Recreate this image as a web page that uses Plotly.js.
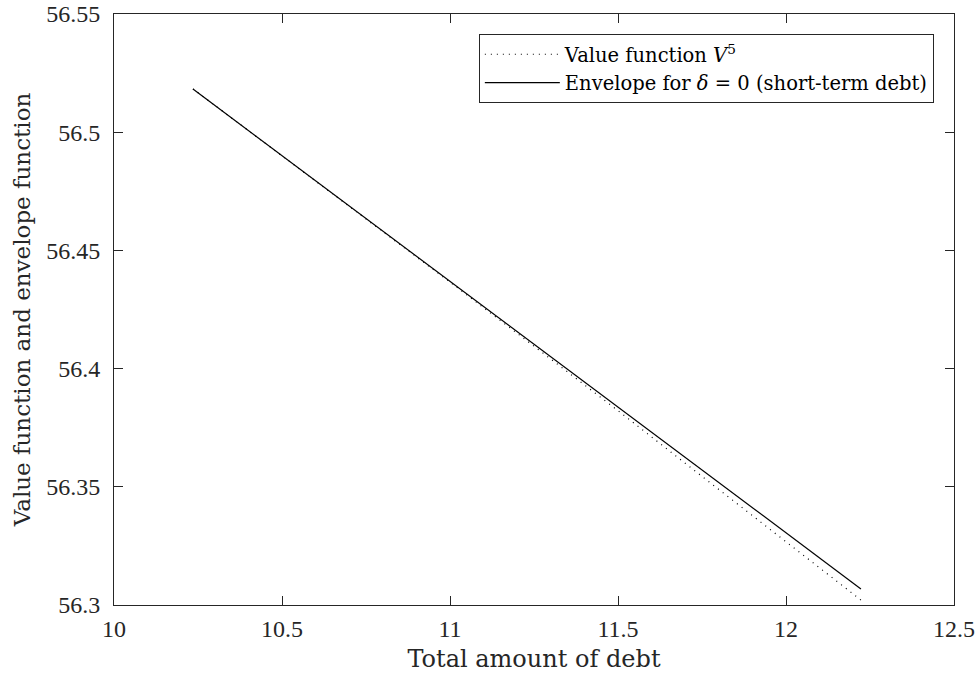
<!DOCTYPE html>
<html>
<head>
<meta charset="utf-8">
<script src="https://cdn.plot.ly/plotly-3.0.1.min.js"></script>
<style>html,body{margin:0;padding:0;background:#fff;}#chart{width:979px;height:677px;}</style>
</head>
<body>
<div id="chart"></div>
<script>
// Data
const debt = [10.235, 10.5, 10.75, 11.0, 11.25, 11.5, 11.75, 12.0, 12.223];
const valueFunction = [56.5183, 56.4901, 56.4634, 56.4366, 56.4095, 56.3822, 56.3544, 56.3267, 56.3021];
const envelope = [56.5183, 56.4901, 56.4635, 56.4369, 56.4103, 56.3837, 56.3571, 56.3305, 56.3068];
const xTickVals = [10, 10.5, 11, 11.5, 12, 12.5];
const xTickText = ['10', '10.5', '11', '11.5', '12', '12.5'];
const yTickVals = [56.3, 56.35, 56.4, 56.45, 56.5, 56.55];
const yTickText = ['56.3', '56.35', '56.4', '56.45', '56.5', '56.55'];

const TICKFONT = '"Liberation Serif", "DejaVu Serif", serif';
const TEXTFONT = '"DejaVu Serif", "Liberation Serif", serif';

const traces = [
  {
    x: debt, y: valueFunction, type: 'scatter', mode: 'lines',
    name: 'Value function <i>V</i><sup>5</sup>',
    line: {color: '#000', width: 1.2, dash: '1px,5px'}
  },
  {
    x: debt, y: envelope, type: 'scatter', mode: 'lines',
    name: 'Envelope for <i>δ</i> = 0 (short-term debt)',
    line: {color: '#000', width: 1.2}
  }
];

const axisCommon = {
  showline: true, linecolor: '#262626', linewidth: 1,
  mirror: 'ticks', ticks: 'inside', ticklen: 9, tickcolor: '#262626',
  showgrid: false, zeroline: false, tickmode: 'array',
  tickfont: {family: TICKFONT, size: 24, color: '#262626'}
};

const layout = {
  width: 979, height: 677,
  margin: {l: 114, r: 25, t: 14, b: 72, pad: 0},
  paper_bgcolor: '#fff', plot_bgcolor: '#fff',
  font: {family: TEXTFONT, color: '#262626'},
  showlegend: true,
  xaxis: Object.assign({}, axisCommon, {
    range: [10, 12.5], tickvals: xTickVals, ticktext: xTickText,
    ticklabelstandoff: 2,
    title: {text: 'Total amount of debt', font: {family: TEXTFONT, size: 24, color: '#262626'}, standoff: 9}
  }),
  yaxis: Object.assign({}, axisCommon, {
    range: [56.3, 56.55], tickvals: yTickVals, ticktext: yTickText,
    ticklabelstandoff: 8,
    title: {text: 'Value function and envelope function', font: {family: TEXTFONT, size: 23, color: '#262626'}, standoff: 9}
  }),
  legend: {
    x: 0.976, y: 0.966, xanchor: 'right', yanchor: 'top',
    bordercolor: '#262626', borderwidth: 1, bgcolor: '#fff',
    font: {family: TEXTFONT, size: 19.5, color: '#000'},
    itemwidth: 75, tracegroupgap: 0
  }
};

Plotly.newPlot('chart', traces, layout, {displayModeBar: false, staticPlot: true});
</script>
</body>
</html>
